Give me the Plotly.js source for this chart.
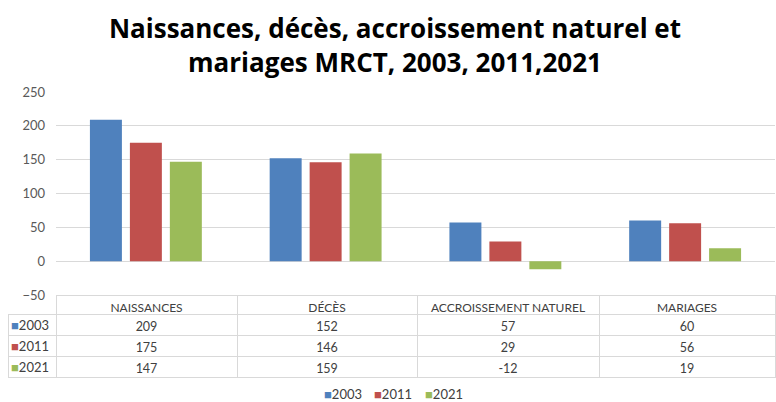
<!DOCTYPE html>
<html><head><meta charset="utf-8">
<script src="https://cdn.plot.ly/plotly-3.0.1.min.js"></script>
<style>html,body{margin:0;padding:0;background:#fff}</style>
</head><body><div id="chart" style="width:776px;height:402px"></div>
<script>
const categories = ['NAISSANCES', 'DÉCÈS', 'ACCROISSEMENT NATUREL', 'MARIAGES'];
const years = ['2003', '2011', '2021'];
const v2003 = [209, 152, 57, 60];
const v2011 = [175, 146, 29, 56];
const v2021 = [147, 159, -12, 19];
const colors = ['#4F81BD', '#C0504D', '#9BBB59'];
const series = [v2003, v2011, v2021];

const FONT = 'Lato, "Open Sans", sans-serif';
const W = 776, H = 402;
const TABLE_TOP = 295, HEADER_H = 19, CELL_H = 21;

const traces = series.map((vals, i) => ({
  type: 'bar', name: years[i], x: categories, y: vals,
  marker: {color: colors[i]}, xaxis: 'x', yaxis: 'y', showlegend: false
}));

const tableCols = [years.map(() => '')].concat(categories.map((c, j) => series.map(s => String(s[j]))));

traces.push({
  type: 'table',
  domain: {x: [8 / W, 775 / W], y: [(H - (TABLE_TOP + HEADER_H + 3 * CELL_H + 2)) / H, (H - TABLE_TOP) / H]},
  columnwidth: [48, 181, 180, 182, 176],
  header: {
    values: [''].concat(categories),
    height: HEADER_H,
    align: 'center',
    fill: {color: ['rgba(0,0,0,0)', '#ffffff', '#ffffff', '#ffffff', '#ffffff']},
    line: {color: ['rgba(0,0,0,0)', '#d9d9d9', '#d9d9d9', '#d9d9d9', '#d9d9d9'], width: 1},
    font: {family: FONT, size: 12, color: '#404040'}
  },
  cells: {
    values: tableCols,
    height: CELL_H,
    align: 'center',
    fill: {color: 'rgba(0,0,0,0)'},
    line: {color: '#d9d9d9', width: 1},
    font: {family: FONT, size: 12.5, color: '#404040'}
  }
});

// Row labels of the data table (series names with their colour key)
const yearAnnotations = years.map((y, i) => ({
  xref: 'paper', yref: 'paper', x: 9 / W, xanchor: 'left',
  y: (H - (TABLE_TOP + HEADER_H + CELL_H * i + CELL_H / 2)) / H, yanchor: 'middle',
  text: `<span style="color:${colors[i]}">■</span>${y}`,
  showarrow: false, font: {family: FONT, size: 13, color: '#404040'}
}));

// Compact legend below the table
const legendX = [323, 373, 424];
const legendAnnotations = years.map((y, i) => ({
  xref: 'paper', yref: 'paper', x: (legendX[i] - 1) / W, xanchor: 'left',
  y: (H - 394) / H, yanchor: 'middle',
  text: `<span style="color:${colors[i]}">■</span>${y}`,
  showarrow: false, font: {family: FONT, size: 13, color: '#404040'}
}));

const layout = {
  width: W, height: H,
  margin: {l: 0, r: 0, t: 0, b: 0, autoexpand: false},
  paper_bgcolor: '#ffffff', plot_bgcolor: '#ffffff',
  font: {family: FONT, color: '#595959'},
  title: {
    text: 'Naissances, décès, accroissement naturel et<br>mariages MRCT, 2003, 2011,2021',
    font: {family: '"Open Sans", sans-serif', size: 26, color: '#000000', weight: 'bold'},
    x: 0.509, xanchor: 'center', y: 0.905, yanchor: 'top'
  },
  barmode: 'group', bargap: 0.333, bargroupgap: 0.2,
  xaxis: {
    domain: [56 / W, 775 / W], showticklabels: false, showgrid: false,
    zeroline: false, showline: false, ticks: '', fixedrange: true, automargin: false
  },
  yaxis: {
    domain: [(H - TABLE_TOP) / H, (H - 92) / H], range: [-50, 250], dtick: 50, tick0: 0,
    showgrid: true, gridcolor: '#d9d9d9', gridwidth: 1,
    zeroline: true, zerolinecolor: '#d9d9d9', zerolinewidth: 1,
    showline: false, ticks: '', ticklen: 0, automargin: false, ticklabelstandoff: 10,
    tickfont: {family: FONT, size: 13, color: '#595959'}
  },
  annotations: yearAnnotations.concat(legendAnnotations),
  showlegend: false
};

Plotly.newPlot('chart', traces, layout, {displayModeBar: false, staticPlot: true});
</script></body></html>
